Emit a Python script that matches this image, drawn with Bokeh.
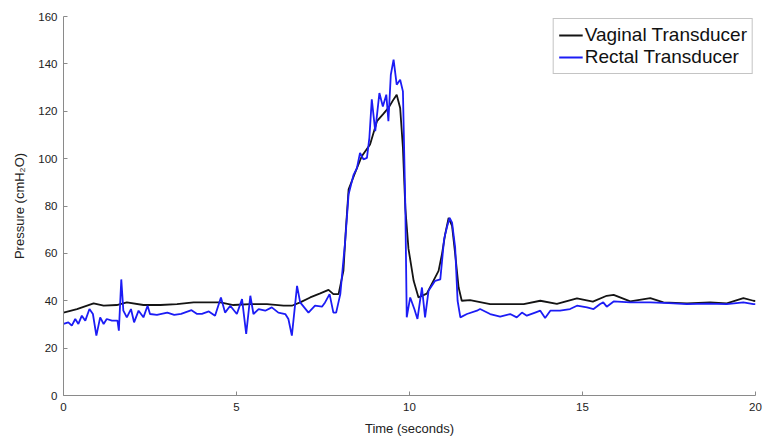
from bokeh.plotting import figure
from bokeh.models import Range1d, Legend, LegendItem, FixedTicker
from bokeh.embed import file_html
from bokeh.resources import INLINE

# Vaginal transducer trace (time s, pressure cmH2O)
vag_t = [0, 0.39, 0.87, 1.16, 1.54, 1.83, 2.31, 2.8, 3.28, 3.76,
         4.14, 4.53, 4.91, 5.4, 5.88, 6.36, 6.6, 6.84, 7.13, 7.42,
         7.66, 7.8, 7.95, 8.09, 8.16, 8.24, 8.4, 8.62, 8.86, 9.06,
         9.25, 9.39, 9.54, 9.63, 9.73, 9.81, 9.88, 9.97, 10.12, 10.26,
         10.5, 10.69, 10.84, 10.94, 11.03, 11.13, 11.23, 11.32, 11.42, 11.51,
         11.75, 12.33, 13.3, 13.78, 14.26, 14.84, 15.3, 15.7, 15.9, 16.38,
         16.96, 17.34, 18.02, 18.69, 19.17, 19.65, 19.94, 20]
vag_p = [35, 36.5, 38.9, 37.9, 38.2, 39.3, 38.2, 38.2, 38.6, 39.3,
         39.3, 39.3, 38.2, 38.6, 38.6, 37.9, 37.9, 39.3, 41.4, 43.1,
         44.6, 42.8, 42.8, 52.6, 70, 87, 93, 101, 106, 115.8,
         119, 121.4, 125, 127, 121.4, 104.5, 79, 62, 48.4, 41.4,
         43, 48.4, 52.6, 59.8, 68, 75, 71.6, 59.8, 45.6, 40,
         40.3, 38.6, 38.6, 40, 38.7, 41, 39.6, 42.1, 42.5, 39.7,
         41.1, 39.3, 38.9, 39.3, 38.9, 41.1, 40, 39.8]

# Rectal transducer trace
rec_t = [0, 0.14, 0.24, 0.34, 0.43, 0.53, 0.63, 0.75, 0.85, 0.95,
         1.06, 1.16, 1.25, 1.4, 1.56, 1.6, 1.67, 1.73, 1.83, 1.95,
         2.04, 2.17, 2.31, 2.43, 2.5, 2.7, 3.0, 3.2, 3.4, 3.7,
         3.85, 4.0, 4.2, 4.38, 4.55, 4.67, 4.82, 5.01, 5.16, 5.28,
         5.4, 5.49, 5.64, 5.83, 6.02, 6.21, 6.41, 6.5, 6.6, 6.75,
         6.84, 7.08, 7.27, 7.47, 7.56, 7.69, 7.8, 7.88, 8.0, 8.14,
         8.24, 8.38, 8.48, 8.57, 8.67, 8.77, 8.84, 8.91, 9.01, 9.13,
         9.23, 9.33, 9.39, 9.46, 9.54, 9.63, 9.73, 9.81, 9.88, 9.92,
         10.02, 10.14, 10.23, 10.36, 10.45, 10.55, 10.74, 10.89, 11.0, 11.08,
         11.16, 11.23, 11.32, 11.39, 11.47, 11.66, 11.95, 12.04, 12.33, 12.62,
         12.91, 13.1, 13.25, 13.39, 13.63, 13.78, 13.92, 14.07, 14.35, 14.64,
         14.84, 15.13, 15.32, 15.51, 15.6, 15.7, 15.9, 16.38, 16.96, 17.5,
         18.02, 18.6, 19.17, 19.65, 19.94, 20]
rec_p = [30.2, 30.9, 29.5, 32.3, 30.2, 33.7, 31.6, 36.5, 34.4, 25.3,
         33, 30.2, 32.3, 31.6, 31.6, 27.4, 49, 35.8, 33, 36.5,
         30.9, 35.8, 33, 37.9, 34.4, 34, 35, 34, 34.5, 36,
         34.5, 34.5, 35.5, 33.7, 41.4, 35, 37.9, 34.4, 40.7, 26,
         42.1, 34.4, 36.5, 35.8, 37.2, 35, 34.4, 32.3, 25.3, 46.3,
         39.3, 35, 37.9, 37.5, 39.3, 42.8, 35, 35, 42.8, 65,
         85, 93, 96, 102.4, 99.7, 100.3, 108.8, 125, 111.6, 127.7,
         122, 127, 115.8, 135.4, 141.8, 131.2, 133.3, 128.4, 79.3, 33,
         41.4, 36.5, 32.3, 45.6, 33, 44.2, 48.4, 49, 66, 70.9,
         75, 73, 62.4, 40, 33, 34.4, 35.8, 36.5, 34.4, 33.3,
         34.4, 33, 35, 33.7, 35, 35.8, 32.7, 35.8, 35.8, 36.5,
         37.9, 37.2, 36.5, 38.6, 39.3, 37.5, 39.7, 39.3, 39.3, 39,
         38.6, 38.8, 38.6, 39.3, 38.6, 38.6]

x_ticks = [0, 5, 10, 15, 20]
y_ticks = [0, 20, 40, 60, 80, 100, 120, 140, 160]
series_labels = ["Vaginal Transducer", "Rectal Transducer"]

FONT = "Liberation Sans"

p = figure(width=765, height=439, output_backend="svg", toolbar_location=None,
           x_range=Range1d(0, 20), y_range=Range1d(0, 160),
           min_border_left=63, min_border_right=10, min_border_top=16,
           min_border_bottom=44)
p.outline_line_color = None
p.grid.visible = False
p.background_fill_color = "white"

for ax in (p.xaxis, p.yaxis):
    ax.axis_line_color = "#8a8a8a"
    ax.axis_line_width = 1
    ax.major_tick_line_color = "#8a8a8a"
    ax.major_tick_in = 4
    ax.major_tick_out = 0
    ax.minor_tick_line_color = None
    ax.major_label_text_font = FONT
    ax.major_label_text_font_size = "11.5px"
    ax.major_label_text_color = "#222222"
    ax.axis_label_text_font = FONT
    ax.axis_label_text_font_size = "13px"
    ax.axis_label_text_font_style = "normal"
    ax.axis_label_text_color = "#222222"

p.xaxis.ticker = FixedTicker(ticks=x_ticks)
p.yaxis.ticker = FixedTicker(ticks=y_ticks)
p.xaxis.major_label_standoff = 7
p.yaxis.major_label_standoff = 6
p.xaxis.axis_label = "Time (seconds)"
p.yaxis.axis_label = "Pressure (cmH\u2082O)"
p.xaxis.axis_label_standoff = 7
p.yaxis.axis_label_standoff = 8

l1 = p.line(vag_t, vag_p, line_color="#141414", line_width=1.8)
l2 = p.line(rec_t, rec_p, line_color="#1c1cf5", line_width=1.8)

legend = Legend(items=[LegendItem(label=series_labels[0], renderers=[l1]),
                       LegendItem(label=series_labels[1], renderers=[l2])],
                location="top_right")
legend.border_line_color = "#8a8a8a"
legend.border_line_width = 1
legend.background_fill_color = "white"
legend.background_fill_alpha = 1
legend.margin = 2
legend.padding = 5
legend.spacing = 0
legend.glyph_width = 24
legend.glyph_height = 22
legend.label_height = 22
legend.label_standoff = 2
legend.label_text_font = FONT
legend.label_text_font_size = "19px"
legend.label_text_color = "#111111"
p.add_layout(legend)

open("out.html", "w").write(file_html(p, INLINE))
